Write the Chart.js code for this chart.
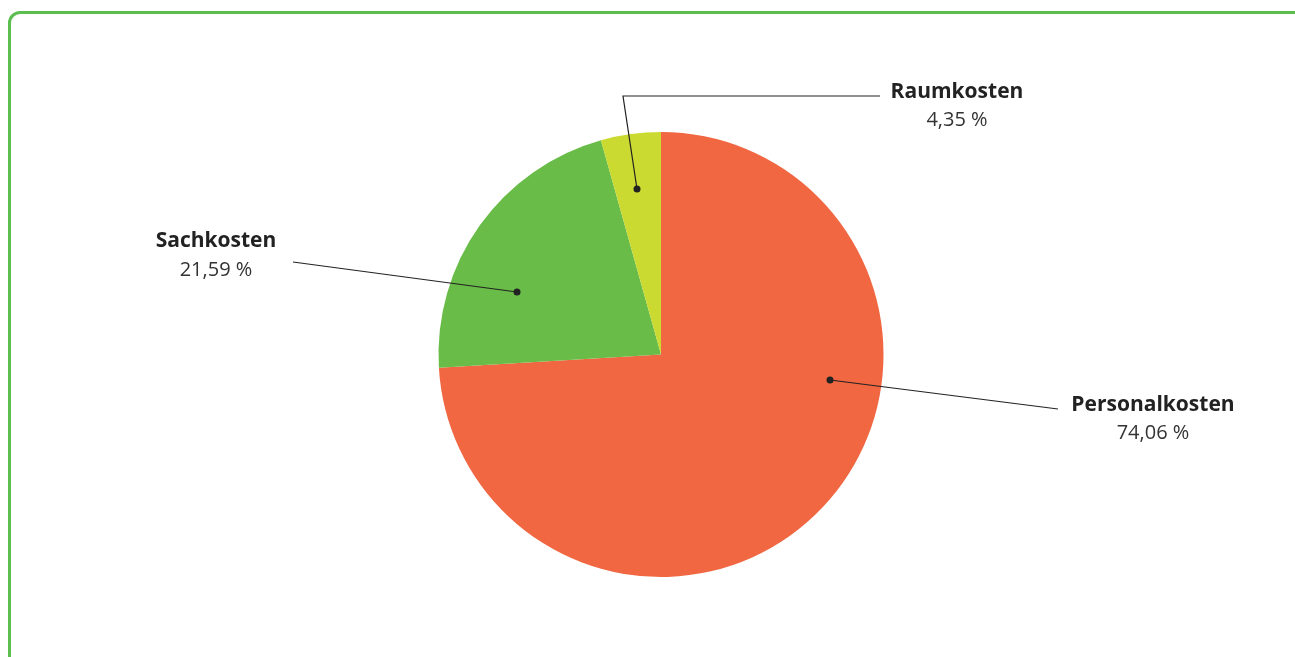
<!DOCTYPE html>
<html>
<head>
<meta charset="utf-8">
<script src="https://cdn.jsdelivr.net/npm/chart.js@4"></script>
<style>
  html, body { margin: 0; padding: 0; background: #fff; overflow: hidden; }
  #frame {
    position: absolute; left: 8px; top: 11px; width: 1310px; height: 680px;
    border: 3px solid #5BBE4E; border-radius: 12px; box-sizing: border-box;
  }
  #wrap { position: absolute; left: 0; top: 0; width: 1295px; height: 657px; }
</style>
</head>
<body>
<div id="frame"></div>
<div id="wrap"><canvas id="myChart"></canvas></div>
<script>
const categories = ['Personalkosten', 'Sachkosten', 'Raumkosten'];
const shares = [74.06, 21.59, 4.35];
const valueLabels = ['74,06 %', '21,59 %', '4,35 %'];
const sliceColors = ['#F06742', '#68BC47', '#CBDA30'];

// leader lines: offsets from pie centre (px)
const leaders = [
    { dot: [169, 25.5], path: [[397, 54.5]], label: [492, 50.5], value: [492, 79] },
    { dot: [-144, -62.5], path: [[-368, -92.5]], label: [-445, -113.5], value: [-445, -84] },
    { dot: [-24, -165.5], path: [[-38, -258.5], [219, -258.5]], label: [296, -262.5], value: [296, -234] }
];

const leaderPlugin = {
    id: 'leaderPlugin',
    afterDraw: (chart) => {
        const arc = chart.getDatasetMeta(0).data[0];
        const cx = arc.x, cy = arc.y;
        const ctx = chart.ctx;
        ctx.save();
        for (let i = 0; i < leaders.length; i++) {
            const l = leaders[i];
            ctx.strokeStyle = '#222';
            ctx.lineWidth = 1.2;
            ctx.beginPath();
            ctx.moveTo(cx + l.dot[0], cy + l.dot[1]);
            l.path.forEach(p => ctx.lineTo(cx + p[0], cy + p[1]));
            ctx.stroke();
            ctx.fillStyle = '#222';
            ctx.beginPath();
            ctx.arc(cx + l.dot[0], cy + l.dot[1], 3.5, 0, Math.PI * 2);
            ctx.fill();

            ctx.textAlign = 'center';
            ctx.textBaseline = 'middle';
            ctx.fillStyle = '#222';
            ctx.font = 'bold 21px "Open Sans"';
            ctx.fillText(categories[i], cx + l.label[0], cy + l.label[1]);
            ctx.fillStyle = '#333';
            ctx.font = '20px "Open Sans"';
            ctx.fillText(valueLabels[i], cx + l.value[0], cy + l.value[1]);
        }
        ctx.restore();
    }
};

const data = {
    labels: categories,
    datasets: [{
        data: shares,
        backgroundColor: sliceColors,
        borderWidth: 0
    }]
};

const config = {
    type: 'pie',
    data: data,
    options: {
        responsive: true,
        maintainAspectRatio: false,
        animation: false,
        layout: { padding: { top: 132, bottom: 80, left: 438, right: 411 } },
        plugins: {
            legend: { display: false },
            tooltip: { enabled: false }
        }
    },
    plugins: [leaderPlugin]
};

let myChart = new Chart(document.getElementById('myChart'), config);
</script>
</body>
</html>
